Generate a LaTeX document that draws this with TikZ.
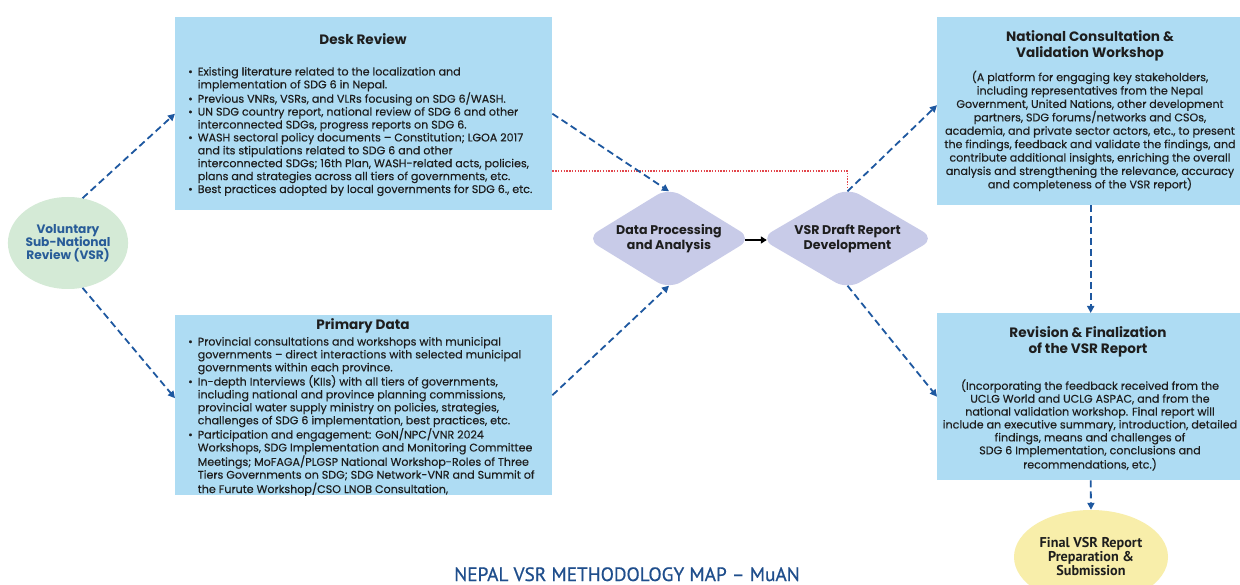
\documentclass[tikz,border=0pt]{standalone}
\usepackage{fontspec}
\setmainfont{Poppins}
\newfontfamily\bodyf{Poppins}[FakeBold=0.3]
\newfontfamily\condfont{PT Sans}
\newfontfamily\condmed{PT Sans}[FakeBold=0.7]
\usetikzlibrary{arrows.meta,shapes.geometric,calc}
\definecolor{boxblue}{RGB}{174,220,243}
\definecolor{lav}{RGB}{200,203,232}
\definecolor{palegreen}{RGB}{212,234,214}
\definecolor{paleyellow}{RGB}{248,238,170}
\definecolor{txt}{RGB}{30,30,30}
\definecolor{linkblue}{RGB}{30,88,160}
\definecolor{vsrblue}{RGB}{40,92,152}
\definecolor{titleblue}{RGB}{31,78,140}
\definecolor{dotred}{RGB}{226,70,76}
\newcommand\bodyfont{\bodyf\fontsize{11.1}{12.9}\selectfont}
\newcommand\bodyfontb{\bodyf\fontsize{11.1}{13.4}\selectfont}
\newcommand\headfont{\fontsize{13.6}{15.5}\selectfont\bfseries}
\newcommand\bl{\textbullet}
\begin{document}
\begin{tikzpicture}[x=1pt,y=-1pt,
  box/.style={rectangle,fill=boxblue,draw=none,inner sep=0,anchor=north west},
  dia/.style={diamond,fill=lav,draw=none,inner sep=0,rounded corners=14pt},
  plain/.style={inner sep=0,text=txt},
  link/.style={draw=linkblue,line width=1.8pt,dash pattern=on 7pt off 4pt,
    -{Triangle[length=7pt,width=7pt]}},
  solidlink/.style={draw=black,line width=1.8pt,-{Triangle[length=6pt,width=7pt]}},
  redlink/.style={draw=dotred,line width=1.6pt,dash pattern=on 1.4pt off 1.4pt}]
\useasboundingbox (0,0) rectangle (1240,585);
\clip (0,0) rectangle (1240,585);
\fill[white] (0,0) rectangle (1240,585);

% boxes
\node[box,minimum width=377pt,minimum height=193pt] (desk) at (175,17) {};
\node[box,minimum width=377pt,minimum height=180pt] (prim) at (175,315) {};
\node[box,minimum width=307pt,minimum height=188pt] (nat) at (937,17) {};
\node[box,minimum width=307pt,minimum height=167pt] (rev) at (937,313) {};

% ellipses and diamonds
\node[ellipse,fill=palegreen,draw=none,minimum width=110pt,minimum height=92pt,inner sep=0,
  text=vsrblue,align=center,font=\fontsize{12.2}{13.2}\selectfont\bfseries] (vsr) at (68,243)
  {Voluntary\\Sub-National\\Review (VSR)};
\node[dia,minimum width=166pt,minimum height=102pt] (dp) at (669,238.5) {};
\node[dia,minimum width=175pt,minimum height=102pt] (dr) at (847.5,238.5) {};
\node[ellipse,fill=paleyellow,draw=none,minimum width=154pt,minimum height=94pt,inner sep=0,
  text=txt,align=center,font=\condfont\fontsize{14.2}{14}\selectfont\bfseries] (fin) at (1091,557)
  {Final VSR Report\\Preparation \&\\Submission};

% diamond texts
\node[plain,align=center,font=\fontsize{12.6}{15}\selectfont\bfseries] (dpt) at (669,239)
  {Data Processing\\and Analysis};
\node[plain,align=center,font=\fontsize{12.6}{15}\selectfont\bfseries] (drt) at (847.5,239)
  {VSR Draft Report\\Development};

% Desk review text
\node[plain,font=\headfont] (deskt) at (363,39) {Desk Review};
\node[plain,anchor=base west] (deski) at (188,75.5) {\bodyfont
\begin{tabular}[t]{@{}l@{\hspace{5pt}}l@{}}
\bl & Existing literature related to the localization and\\
 & implementation of SDG 6 in Nepal.\\
\bl & Previous VNRs, VSRs, and VLRs focusing on SDG 6/WASH.\\
\bl & UN SDG country report, national review of SDG 6 and other\\
 & interconnected SDGs, progress reports on SDG 6.\\
\bl & WASH sectoral policy documents – Constitution; LGOA 2017\\
 & and its stipulations related to SDG 6 and other\\
 & interconnected SDGs; 16th Plan, WASH-related acts, policies,\\
 & plans and strategies across all tiers of governments, etc.\\
\bl & Best practices adopted by local governments for SDG 6., etc.
\end{tabular}};

% Primary data text
\node[plain,font=\headfont] (primt) at (363,326) {Primary Data};
\node[plain,anchor=base west] (primi) at (188,345.5) {\bodyfont
\begin{tabular}[t]{@{}l@{\hspace{5pt}}l@{}}
\bl & Provincial consultations and workshops with municipal\\
 & governments – direct interactions with selected municipal\\
 & governments within each province.\\
\bl & In-depth Interviews (KIIs) with all tiers of governments,\\
 & including national and province planning commissions,\\
 & provincial water supply ministry on policies, strategies,\\
 & challenges of SDG 6 implementation, best practices, etc.\\
\bl & Participation and engagement: GoN/NPC/VNR 2024\\
 & Workshops, SDG Implementation and Monitoring Committee\\
 & Meetings; MoFAGA/PLGSP National Workshop-Roles of Three\\
 & Tiers Governments on SDG; SDG Network-VNR and Summit of\\
 & the Furute Workshop/CSO LNOB Consultation,
\end{tabular}};

% National consultation text
\node[plain,align=center,font=\headfont] (natt) at (1090,46)
  {National Consultation \&\\Validation Workshop};
\node[plain,align=center,font=\bodyfontb] (natb) at (1090,131)
  {(A platform for engaging key stakeholders,\\
including representatives from the Nepal\\
Government, United Nations, other development\\
partners, SDG forums/networks and CSOs,\\
academia, and private sector actors, etc., to present\\
the findings, feedback and validate the findings, and\\
contribute additional insights, enriching the overall\\
analysis and strengthening the relevance, accuracy\\
and completeness of the VSR report)};

% Revision text
\node[plain,align=center,font=\headfont] (revt) at (1088,342)
  {Revision \& Finalization\\of the VSR Report};
\node[plain,align=center,font=\bodyfont] (revb) at (1090,425)
  {(Incorporating the feedback received from the\\
UCLG World and UCLG ASPAC, and from the\\
national validation workshop. Final report will\\
include an executive summary, introduction, detailed\\
findings, means and challenges of\\
SDG 6 Implementation, conclusions and\\
recommendations, etc.)};

% bottom title
\node[inner sep=0,anchor=base,text=titleblue,font=\condmed\fontsize{19.3}{20}\selectfont] (title) at (627,581)
  {NEPAL VSR METHODOLOGY MAP – MuAN};

% connectors
\draw[redlink] ([yshift=-57.5pt]desk.east) -| ([yshift=-4pt]dr.north);
\draw[link] (vsr.72) -- (desk.west);
\draw[link] (vsr.-72) -- ([yshift=7pt]prim.west);
\draw[link] (desk.east) -- ([yshift=-4pt]dp.north);
\draw[link] ([yshift=10pt]prim.east) -- ([yshift=4pt]dp.south);
\draw[solidlink] ([xshift=-7pt,yshift=-1.5pt]dp.east) -- ([xshift=7pt,yshift=-1.5pt]dr.west);
\draw[link] ([yshift=-4pt]dr.north) -- ([yshift=6pt]nat.west);
\draw[link] ([yshift=4pt]dr.south) -- (rev.west);
\draw[link] (nat.south) -- (rev.north);
\draw[link] (rev.south) -- (fin.north);
\end{tikzpicture}
\end{document}
